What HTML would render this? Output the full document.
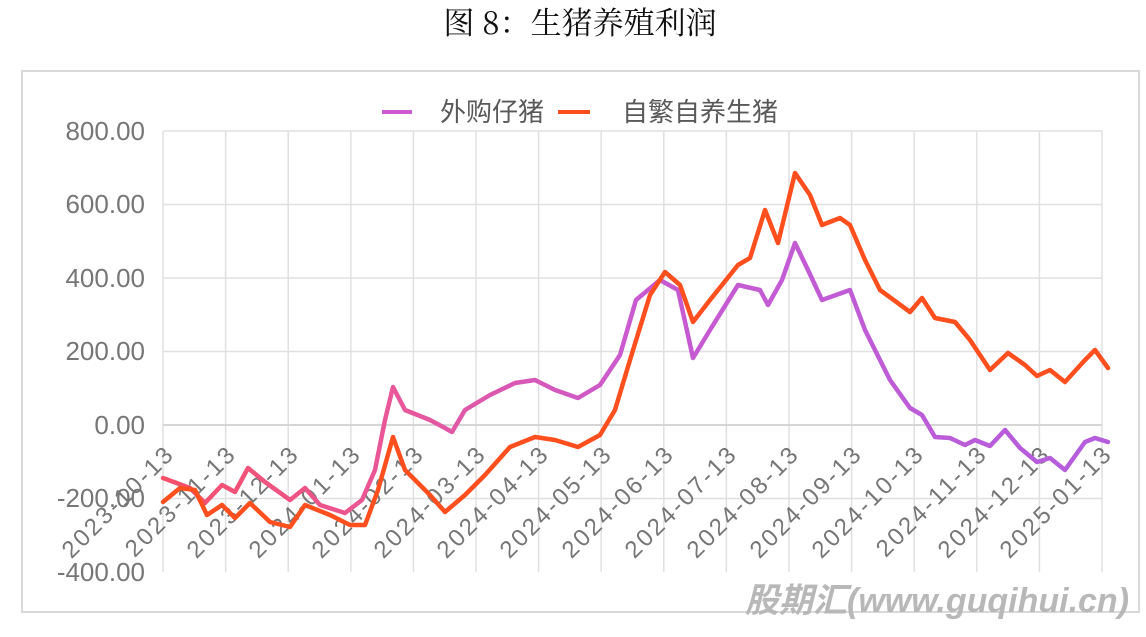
<!DOCTYPE html>
<html><head><meta charset="utf-8"><style>
body{margin:0;background:#fff;width:1146px;height:632px;overflow:hidden;font-family:"Liberation Sans","Noto Sans CJK SC",sans-serif;}
</style></head><body>
<svg width="1146" height="632" xmlns="http://www.w3.org/2000/svg">
<defs>
<linearGradient id="pg" x1="163" y1="0" x2="1108" y2="0" gradientUnits="userSpaceOnUse">
<stop offset="0" stop-color="#f4506a"/><stop offset="0.25" stop-color="#e8579a"/><stop offset="0.5" stop-color="#c95ad0"/><stop offset="1" stop-color="#b45ddc"/>
</linearGradient>
</defs>
<text x="580" y="34" text-anchor="middle" font-family="'Noto Serif CJK SC','Liberation Serif',serif" font-size="31" fill="#111">图 8：生猪养殖利润</text>
<rect x="22" y="71" width="1117" height="541" fill="none" stroke="#d9d9d9" stroke-width="2"/>
<g stroke="#e0e0e0" stroke-width="1.5">
<line x1="163" y1="131" x2="1102" y2="131"/><line x1="163" y1="204.5" x2="1102" y2="204.5"/><line x1="163" y1="278" x2="1102" y2="278"/><line x1="163" y1="351.5" x2="1102" y2="351.5"/><line x1="163" y1="425" x2="1102" y2="425"/><line x1="163" y1="498.5" x2="1102" y2="498.5"/>
<line x1="163" y1="131" x2="163" y2="572"/><line x1="225.6" y1="131" x2="225.6" y2="572"/><line x1="288.2" y1="131" x2="288.2" y2="572"/><line x1="350.8" y1="131" x2="350.8" y2="572"/><line x1="413.4" y1="131" x2="413.4" y2="572"/><line x1="476" y1="131" x2="476" y2="572"/><line x1="538.6" y1="131" x2="538.6" y2="572"/><line x1="601.2" y1="131" x2="601.2" y2="572"/><line x1="663.8" y1="131" x2="663.8" y2="572"/><line x1="726.4" y1="131" x2="726.4" y2="572"/><line x1="789" y1="131" x2="789" y2="572"/><line x1="851.6" y1="131" x2="851.6" y2="572"/><line x1="914.2" y1="131" x2="914.2" y2="572"/><line x1="976.8" y1="131" x2="976.8" y2="572"/><line x1="1039.4" y1="131" x2="1039.4" y2="572"/><line x1="1102" y1="131" x2="1102" y2="572"/>
</g>
<line x1="163" y1="425" x2="1102" y2="425" stroke="#d6d6d6" stroke-width="2"/>
<g font-size="26" fill="#767676" text-anchor="end">
<text x="145" y="140">800.00</text><text x="145" y="213">600.00</text><text x="145" y="287">400.00</text><text x="145" y="360">200.00</text><text x="145" y="434">0.00</text><text x="145" y="507">-200.00</text><text x="145" y="581">-400.00</text>
</g>
<g font-size="24" fill="#767676" text-anchor="end" letter-spacing="2.5">
<text transform="translate(176,455) rotate(-45)">2023-10-13</text>
<text transform="translate(238,455) rotate(-45)">2023-11-13</text>
<text transform="translate(301,455) rotate(-45)">2023-12-13</text>
<text transform="translate(363,455) rotate(-45)">2024-01-13</text>
<text transform="translate(426,455) rotate(-45)">2024-02-13</text>
<text transform="translate(488,455) rotate(-45)">2024-03-13</text>
<text transform="translate(551,455) rotate(-45)">2024-04-13</text>
<text transform="translate(614,455) rotate(-45)">2024-05-13</text>
<text transform="translate(676,455) rotate(-45)">2024-06-13</text>
<text transform="translate(739,455) rotate(-45)">2024-07-13</text>
<text transform="translate(801,455) rotate(-45)">2024-08-13</text>
<text transform="translate(864,455) rotate(-45)">2024-09-13</text>
<text transform="translate(926,455) rotate(-45)">2024-10-13</text>
<text transform="translate(989,455) rotate(-45)">2024-11-13</text>
<text transform="translate(1052,455) rotate(-45)">2024-12-13</text>
<text transform="translate(1114,455) rotate(-45)">2025-01-13</text>
</g>
<polyline fill="none" stroke="url(#pg)" stroke-width="4.5" stroke-linejoin="round" stroke-linecap="round" points="163,478 190,488 205,503 222,485 235,492 248,468 265,482 290,500 305,488 320,505 345,513 362,500 375,470 385,420 393,387 405,410 430,420 445,428 452,432 465,410 490,395 515,383 535,380 555,390 578,398 600,385 620,355 636,300 660,280 678,290 693,358 710,330 738,285 760,290 768,305 782,280 795,243 808,270 822,300 850,290 865,330 890,380 910,408 922,415 935,437 950,438 965,445 975,440 990,446 1005,430 1020,448 1037,462 1050,458 1065,470 1085,442 1095,438 1108,442"/>
<polyline fill="none" stroke="#ff4f1f" stroke-width="4.5" stroke-linejoin="round" stroke-linecap="round" points="163,502 180,488 195,490 207,515 222,505 235,518 250,503 270,522 290,527 305,505 330,515 350,525 365,525 378,490 393,437 405,470 430,495 445,512 465,495 485,475 510,447 535,437 555,440 578,447 600,435 615,410 630,360 650,295 665,272 680,285 693,322 710,300 738,265 750,258 765,210 778,243 795,173 810,195 822,225 840,218 850,225 865,260 880,290 910,312 922,298 935,318 955,322 970,340 990,370 1008,353 1025,365 1037,376 1050,370 1065,382 1085,360 1095,350 1108,368"/>
<line x1="382" y1="112" x2="412" y2="112" stroke="#c95ad0" stroke-width="4"/>
<text x="440" y="121" font-size="26" fill="#595959">外购仔猪</text>
<line x1="558" y1="112" x2="590" y2="112" stroke="#ff4f1f" stroke-width="4"/>
<text x="622" y="121" font-size="26" fill="#595959">自繁自养生猪</text>
<text x="745" y="612" font-size="34" font-weight="bold" font-style="italic" fill="#b8b8b8">股期汇(www.guqihui.cn)</text>
</svg>
</body></html>
